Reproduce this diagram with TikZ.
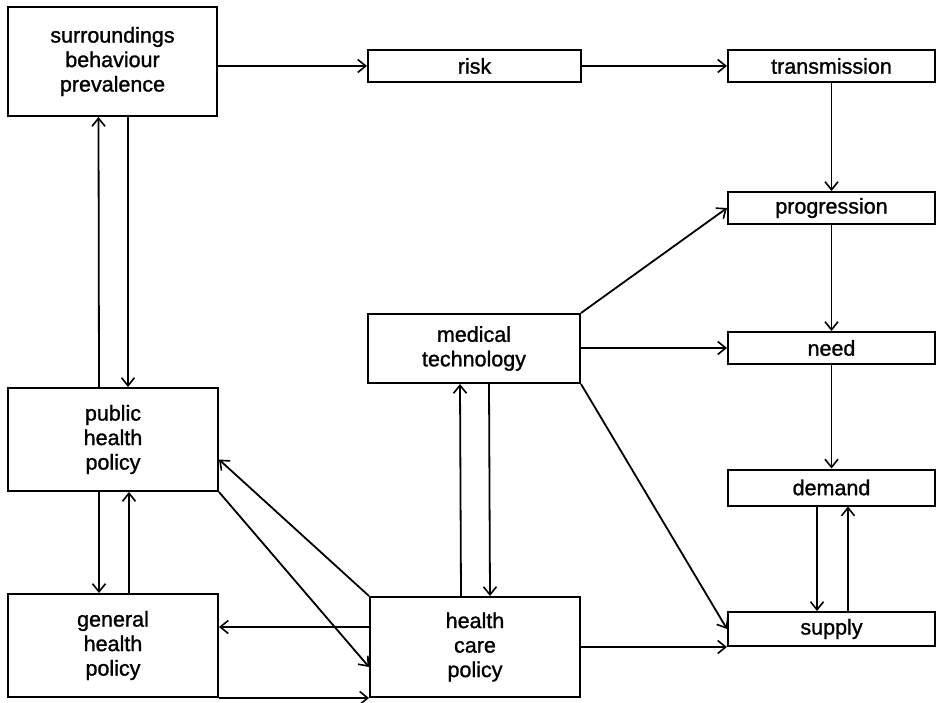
\documentclass[tikz,border=0pt]{standalone}
\usepackage{fontspec}
\setmainfont{Liberation Sans}[FakeBold=1.2]
\usetikzlibrary{arrows.meta}
\begin{document}
\begin{tikzpicture}[x=1pt,y=-1pt,
  box/.style={draw,line width=2pt,inner sep=0pt,align=center,
    font=\fontsize{21.5}{24.5}\selectfont},
  arr/.style={line width=1.8pt,-{Straight Barb[length=8pt,width=13pt,line width=1.6pt]}}]
\useasboundingbox (0,0) rectangle (937,702);
\node[box,minimum width=209pt,minimum height=109pt] (sbp) at (112.5,61.5) {surroundings\\behaviour\\prevalence};
\node[box,minimum width=213pt,minimum height=32pt] (risk) at (474.5,66) {risk};
\node[box,minimum width=207pt,minimum height=32pt] (trans) at (831.5,66) {transmission};
\node[box,minimum width=207pt,minimum height=32pt] (prog) at (831.5,208) {progression};
\node[box,minimum width=207pt,minimum height=32pt] (need) at (831.5,348) {need};
\node[box,minimum width=207pt,minimum height=36pt] (demand) at (831.5,487.5) {demand};
\node[box,minimum width=207pt,minimum height=34pt] (supply) at (831.5,629) {supply};
\node[box,minimum width=212pt,minimum height=69pt] (med) at (474,348.5) {medical\\technology};
\node[box,minimum width=210pt,minimum height=103pt] (php) at (113,439.5) {public\\health\\policy};
\node[box,minimum width=210pt,minimum height=103pt] (ghp) at (113,645.5) {general\\health\\policy};
\node[box,minimum width=210pt,minimum height=100pt] (hcp) at (475,647) {health\\care\\policy};
% top row
\draw[arr] (risk.west -| sbp.east) -- (risk.west);
\draw[arr] (risk.east) -- (trans.west);
% right column
\draw[arr] (trans.south) -- (prog.north);
\draw[arr] (prog.south) -- (need.north);
\draw[arr] (need.south) -- (demand.north);
\draw[arr] ([xshift=-14.5pt]demand.south) -- ([xshift=-14.5pt]supply.north);
\draw[arr] ([xshift=16.5pt]supply.north) -- ([xshift=16.5pt]demand.south);
% medical technology
\draw[arr] (med.north east) -- (prog.west);
\draw[arr] (need.west -| med.east) -- (need.west);
\draw[arr] (med.south east) -- (supply.west);
\draw[arr] ([xshift=-14pt]hcp.north) -- ([xshift=-14pt]med.south);
\draw[arr] ([xshift=15pt]med.south) -- ([xshift=15pt]hcp.north);
% left column
\draw[arr] ([xshift=-14pt]php.north) -- ([xshift=-14pt]sbp.south);
\draw[arr] ([xshift=15.5pt]sbp.south) -- ([xshift=15pt]php.north);
\draw[arr] ([xshift=-14pt]php.south) -- ([xshift=-14pt]ghp.north);
\draw[arr] ([xshift=16pt]ghp.north) -- ([xshift=16pt]php.south);
% diagonals
\draw[arr] (hcp.north west) -- ([yshift=-20pt]php.east);
\draw[arr] (php.south east) -- ([yshift=-20pt]hcp.west);
% bottom
\draw[arr] ([yshift=20pt]hcp.west) -- ([yshift=20pt]hcp.west -| ghp.east);
\draw[arr] (ghp.south east) -- (hcp.south west);
\draw[arr] (supply.south west -| hcp.east) -- (supply.south west);
\end{tikzpicture}
\end{document}
